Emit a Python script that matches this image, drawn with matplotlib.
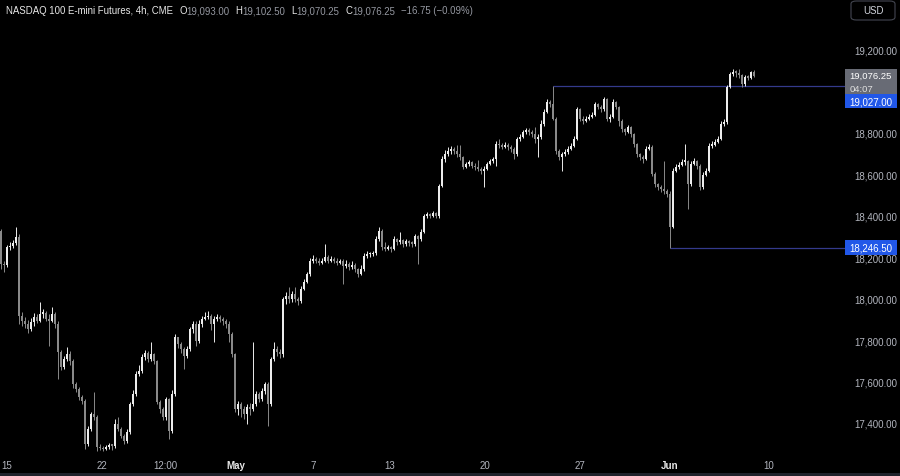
import matplotlib
matplotlib.use("Agg")
import matplotlib.pyplot as plt
import matplotlib.transforms as mtransforms
from matplotlib.patches import Rectangle, FancyBboxPatch
import numpy as np

# ---- data (NQ 4h candles, Apr 15 -> Jun 7) ----
first_open = 18327.0
closes = [
    18167, 18162, 18249, 18254, 18269, 18298, 17916, 17892, 17878, 17853,
    17887, 17911, 17892, 17926, 17931, 17902, 17892, 17926, 17878, 17742,
    17670, 17709, 17733, 17699, 17588, 17564, 17525, 17506, 17298, 17371,
    17443, 17429, 17284, 17279, 17274, 17284, 17294, 17289, 17395, 17371,
    17337, 17313, 17356, 17492, 17540, 17636, 17651, 17718, 17738, 17709,
    17733, 17699, 17501, 17467, 17429, 17516, 17361, 17540, 17815, 17781,
    17757, 17723, 17757, 17853, 17878, 17795, 17878, 17902, 17911, 17916,
    17878, 17902, 17911, 17902, 17892, 17878, 17829, 17733, 17467, 17492,
    17467, 17443, 17477, 17467, 17492, 17540, 17516, 17554, 17588, 17492,
    17709, 17757, 17742, 17733, 17998, 18012, 17998, 18022, 17998, 17988,
    18046, 18080, 18119, 18182, 18191, 18182, 18172, 18182, 18201, 18182,
    18191, 18182, 18172, 18182, 18158, 18167, 18153, 18162, 18143, 18119,
    18143, 18206, 18215, 18215, 18220, 18288, 18327, 18249, 18240, 18249,
    18240, 18288, 18273, 18283, 18264, 18278, 18269, 18264, 18302, 18288,
    18322, 18399, 18409, 18399, 18413, 18399, 18544, 18674, 18698, 18713,
    18722, 18713, 18698, 18684, 18635, 18650, 18660, 18640, 18635, 18626,
    18616, 18626, 18650, 18664, 18674, 18746, 18741, 18732, 18741, 18732,
    18722, 18698, 18770, 18780, 18804, 18814, 18804, 18795, 18770, 18780,
    18843, 18901, 18949, 18939, 18867, 18713, 18684, 18698, 18708, 18722,
    18737, 18770, 18915, 18867, 18857, 18867, 18877, 18886, 18939, 18925,
    18915, 18964, 18867, 18877, 18949, 18925, 18857, 18819, 18804, 18828,
    18795, 18746, 18698, 18684, 18674, 18722, 18732, 18602, 18553, 18539,
    18529, 18520, 18505, 18346, 18616, 18635, 18645, 18660, 18664, 18553,
    18650, 18664, 18640, 18539, 18597, 18616, 18737, 18741, 18756, 18770,
    18843, 18853, 19021, 19084, 19094, 19089, 19079, 19036, 19070, 19065,
    19093, 19076.25,
]
highs = [
    18336, 18180, 18260, 18275, 18285, 18346, 18310, 17935, 17910, 17895,
    17905, 17930, 17925, 17984, 17950, 17940, 17925, 17960, 17935, 17890,
    17750, 17725, 17765, 17745, 17710, 17600, 17575, 17535, 17515, 17385,
    17455, 17550, 17440, 17300, 17290, 17295, 17305, 17300, 17419, 17430,
    17380, 17345, 17370, 17500, 17560, 17650, 17680, 17735, 17750, 17745,
    17791, 17740, 17705, 17510, 17475, 17525, 17520, 17560, 17830, 17810,
    17790, 17765, 17770, 17865, 17890, 17890, 17895, 17915, 17935, 17940,
    17925, 17915, 17925, 17920, 17910, 17900, 17890, 17840, 17740, 17505,
    17500, 17480, 17490, 17495, 17791, 17555, 17550, 17570, 17600, 17600,
    17720, 17791, 17770, 17755, 18010, 18030, 18056, 18035, 18056, 18010,
    18060, 18095, 18130, 18195, 18210, 18200, 18195, 18195, 18264, 18210,
    18205, 18200, 18195, 18190, 18190, 18185, 18175, 18180, 18170, 18150,
    18160, 18220, 18230, 18225, 18232, 18300, 18346, 18335, 18275, 18260,
    18255, 18300, 18295, 18322, 18290, 18290, 18285, 18280, 18310, 18305,
    18335, 18410, 18420, 18415, 18425, 18420, 18555, 18690, 18715, 18730,
    18735, 18730, 18741, 18741, 18690, 18660, 18670, 18665, 18655, 18670,
    18635, 18640, 18660, 18675, 18685, 18760, 18770, 18750, 18755, 18750,
    18740, 18730, 18780, 18795, 18815, 18825, 18825, 18815, 18828, 18795,
    18860, 18915, 18964, 18960, 19027, 18875, 18720, 18710, 18720, 18735,
    18750, 18785, 18925, 18920, 18880, 18880, 18890, 18900, 18950, 18945,
    18935, 18973, 18970, 18890, 18965, 18955, 18930, 18865, 18825, 18840,
    18835, 18800, 18750, 18705, 18695, 18735, 18745, 18740, 18610, 18560,
    18550, 18664, 18530, 18520, 18630, 18650, 18660, 18675, 18746, 18670,
    18665, 18680, 18670, 18650, 18610, 18630, 18750, 18760, 18770, 18785,
    18855, 18865, 19030, 19095, 19110, 19105, 19108, 19085, 19080, 19080,
    19100, 19102.5,
]
lows = [
    18143, 18129, 18155, 18235, 18245, 18260, 17878, 17870, 17860, 17835,
    17845, 17870, 17880, 17885, 17905, 17890, 17771, 17885, 17860, 17612,
    17655, 17660, 17700, 17680, 17570, 17550, 17510, 17490, 17274, 17290,
    17360, 17415, 17265, 17268, 17265, 17268, 17275, 17270, 17280, 17360,
    17325, 17300, 17305, 17345, 17480, 17530, 17625, 17640, 17705, 17695,
    17700, 17685, 17490, 17450, 17415, 17415, 17323, 17350, 17530, 17760,
    17740, 17660, 17715, 17745, 17835, 17770, 17785, 17865, 17895, 17900,
    17850, 17791, 17890, 17885, 17875, 17860, 17791, 17720, 17455, 17440,
    17430, 17420, 17395, 17440, 17460, 17480, 17500, 17505, 17540, 17385,
    17480, 17700, 17725, 17715, 17720, 17975, 17980, 17985, 17985, 17970,
    17980, 18040, 18075, 18110, 18170, 18170, 18160, 18165, 18175, 18170,
    18175, 18170, 18160, 18165, 18071, 18150, 18140, 18145, 18130, 18105,
    18115, 18135, 18195, 18200, 18205, 18210, 18280, 18235, 18230, 18235,
    18225, 18235, 18260, 18265, 18250, 18255, 18255, 18250, 18255, 18167,
    18280, 18315, 18390, 18390, 18395, 18390, 18390, 18540, 18660, 18690,
    18700, 18700, 18685, 18670, 18625, 18630, 18640, 18630, 18620, 18615,
    18600, 18540, 18620, 18645, 18655, 18640, 18725, 18720, 18725, 18715,
    18710, 18674, 18690, 18760, 18775, 18795, 18790, 18780, 18750, 18684,
    18770, 18835, 18895, 18925, 18860, 18700, 18670, 18616, 18690, 18700,
    18715, 18730, 18765, 18855, 18845, 18850, 18860, 18870, 18880, 18915,
    18900, 18905, 18855, 18850, 18870, 18915, 18835, 18805, 18790, 18800,
    18780, 18730, 18685, 18670, 18655, 18670, 18715, 18590, 18540, 18525,
    18515, 18505, 18490, 18246.5, 18340, 18610, 18625, 18640, 18645, 18433,
    18545, 18645, 18625, 18525, 18530, 18590, 18610, 18725, 18735, 18750,
    18765, 18835, 18845, 19015, 19075, 19070, 19065, 19021, 19025, 19055,
    19060, 19070.25,
]

# x-axis labels and their bar positions
time_labels = ["15", "22", "12:00", "May", "7", "13", "20", "27", "Jun", "10"]
time_pos = [2.0, 33.7, 54.7, 78.3, 104.0, 129.7, 161.3, 193.0, 222.7, 255.7]
# 19,000 sits under the price labels in the original, so it is not listed
price_ticks = [17400, 17600, 17800, 18000, 18200, 18400, 18600, 18800, 19200]

resistance = 19027.0
support = 18246.5
countdown = "04:07"
title = "NASDAQ 100 E-mini Futures, 4h, CME"

# ---- styling ----
BG = "#000000"
UP = "#ececec"
DOWN = "#8a8a8a"
RAY = "#343a8c"
AXIS_TXT = "#b2b5be"
FONT = "Liberation Sans"

W, H = 900, 477
fig = plt.figure(figsize=(W / 100, H / 100), dpi=100, facecolor=BG)
ax_w_px, ax_h_px = 845, 454
ax = fig.add_axes([0, (H - ax_h_px) / H, ax_w_px / W, ax_h_px / H], facecolor=BG)

ymin, ymax = 17255.0, 19446.0
xmin, xmax = -0.33, 281.3
ax.set_ylim(ymin, ymax)
ax.set_xlim(xmin, xmax)
ppx = (ymax - ymin) / ax_h_px  # price per pixel

# candles
c = np.array(closes, dtype=float)
h = np.array(highs, dtype=float)
l = np.array(lows, dtype=float)
o = np.concatenate([[first_open], c[:-1]])
idx = np.arange(len(c))
colors = np.where(c >= o, UP, DOWN)
ax.vlines(idx, l, h, colors=colors, linewidth=0.7, zorder=2)
body_lo = np.minimum(o, c)
body_h = np.maximum(np.abs(c - o), 1.5 * ppx)
ax.bar(idx, body_h, bottom=body_lo, width=0.65, color=colors, linewidth=0, zorder=2)

# horizontal rays from the swing high / swing low
res_i = highs.index(resistance)
sup_i = lows.index(support)
ax.hlines(resistance, res_i, xmax, color=RAY, linewidth=0.9, zorder=1)
ax.hlines(support, sup_i, xmax, color=RAY, linewidth=0.9, zorder=1)

# axes styling
for sp in ax.spines.values():
    sp.set_visible(False)
ax.yaxis.tick_right()
ax.set_yticks(price_ticks)
ax.set_yticklabels([f"{p:,.2f}" for p in price_ticks])
ax.tick_params(axis="y", length=0, pad=7, labelsize=7, labelcolor=AXIS_TXT)
ax.set_xticks(time_pos)
ax.set_xticklabels(time_labels)
ax.tick_params(axis="x", length=0, pad=5, labelsize=7, labelcolor=AXIS_TXT)
for t in ax.get_xticklabels() + ax.get_yticklabels():
    t.set_fontfamily(FONT)
for t in ax.get_xticklabels():
    if t.get_text() in ("May", "Jun"):
        t.set_fontweight("bold")
        t.set_color("#e8e8e8")

# price labels on the right scale
blend = mtransforms.blended_transform_factory(ax.transAxes, ax.transData)
box_w = 52 / ax_w_px
last_price = closes[-1]
g_top = last_price + 6.5 * ppx
g_bot = last_price - 18.5 * ppx
ax.add_patch(Rectangle((1.0, g_bot), box_w, g_top - g_bot, transform=blend,
                       facecolor="#686b75", edgecolor="none", clip_on=False, zorder=5))
ax.text(1.005, last_price + 0.5 * ppx, f"{last_price:,.2f}", transform=blend, ha="left",
        va="center", color="white", fontsize=6.8, family=FONT, zorder=6, clip_on=False)
ax.text(1.005, last_price - 12.5 * ppx, countdown, transform=blend, ha="left", va="center",
        color="#e0e0e0", fontsize=6.8, family=FONT, zorder=6, clip_on=False)
b_top = g_bot
b_bot = g_bot - 14 * ppx
ax.add_patch(Rectangle((1.0, b_bot), box_w, b_top - b_bot, transform=blend,
                       facecolor="#2157e8", edgecolor="none", clip_on=False, zorder=5))
ax.text(1.005, (b_top + b_bot) / 2, f"{resistance:,.2f}", transform=blend, ha="left",
        va="center", color="white", fontsize=7, family=FONT, zorder=6, clip_on=False)
ax.add_patch(Rectangle((1.0, support - 7.5 * ppx), box_w, 15 * ppx, transform=blend,
                       facecolor="#2157e8", edgecolor="none", clip_on=False, zorder=5))
ax.text(1.005, support, f"{support:,.2f}", transform=blend, ha="left", va="center",
        color="white", fontsize=7, family=FONT, zorder=6, clip_on=False)

# currency box top right
fig.patches.append(FancyBboxPatch((851 / W, 1 - 21 / H), 44 / W, 19 / H,
                                  boxstyle="round,pad=0,rounding_size=0.006",
                                  transform=fig.transFigure, facecolor=BG,
                                  edgecolor="#434651", linewidth=0.8))
fig.text(873 / W, 1 - 11.5 / H, "USD", ha="center", va="center", color="#d1d4dc",
         fontsize=7, family=FONT)

# bottom strip
fig.patches.append(Rectangle((0, 0), 1, 3 / H, transform=fig.transFigure,
                             facecolor="#1f222b", edgecolor="none"))

# header legend with OHLC of last bar
ohlc_txt = "#9598a1"
chg = closes[-1] - closes[-2]
pct = chg / closes[-2] * 100
segments = [
    (title, "#e8e8e8", 6),
    ("O", "#e8e8e8", 0), (f"{o[-1]:,.2f}", ohlc_txt, 6),
    ("H", "#e8e8e8", 0), (f"{h[-1]:,.2f}", ohlc_txt, 6),
    ("L", "#e8e8e8", 0), (f"{l[-1]:,.2f}", ohlc_txt, 6),
    ("C", "#e8e8e8", 0), (f"{c[-1]:,.2f}", ohlc_txt, 6),
    (f"\u2212{abs(chg):.2f} (\u2212{abs(pct):.2f}%)", ohlc_txt, 0),
]
renderer = fig.canvas.get_renderer()
x_px = 6
for s, col, gap in segments:
    t = fig.text(x_px / W, 1 - 11 / H, s, ha="left", va="center", color=col,
                 fontsize=6.9, family=FONT)
    bb = t.get_window_extent(renderer)
    x_px = bb.x1 + gap

fig.savefig("out.png", dpi=100, facecolor=BG)
